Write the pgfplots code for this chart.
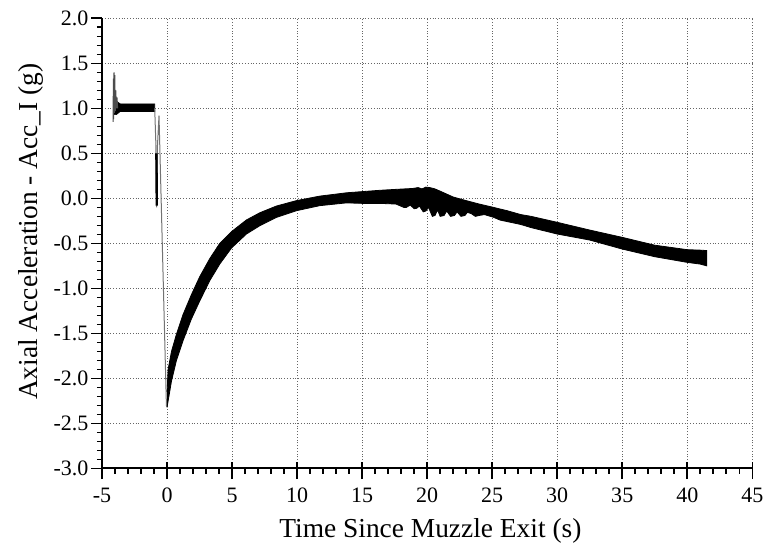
\documentclass[border=0pt]{standalone}
\usepackage{fontspec}
\setmainfont{Liberation Serif}
\usepackage{pgfplots}
\pgfplotsset{compat=1.18}
\begin{document}
\begin{tikzpicture}
\begin{axis}[
  scale only axis,
  width=325pt, height=225pt,
  xmin=-5, xmax=45, ymin=-3, ymax=2,
  axis lines=left,
  axis line style={-, line width=1pt},
  xtick={-5,0,5,10,15,20,25,30,35,40,45},
  ytick={-3,-2.5,-2,-1.5,-1,-0.5,0,0.5,1,1.5,2},
  minor x tick num=4,
  minor y tick num=4,
  tick align=outside,
  major tick length=5.3pt,
  minor tick length=2.6pt,
  every tick/.style={black, line width=0.8pt},
  grid=major,
  major grid style={densely dotted, black!60, line width=0.5pt},
  /pgf/number format/assume math mode=true,
  ticklabel style={font=\fontsize{11}{13}\selectfont},
  x tick label style={yshift=-1pt},
  y tick label style={inner sep=1.3pt, /pgf/number format/.cd, fixed, fixed zerofill, precision=1, /tikz/.cd},
  extra x ticks={-5,0,5,10,15,20,25,30,35,40,45},
  extra x tick labels={},
  extra x tick style={grid=none, tick align=inside, major tick length=3pt},
  xlabel={Time Since Muzzle Exit (s)},
  ylabel={Axial Acceleration - Acc\_I (g)},
  every axis x label/.style={at={(axis description cs:0.505,-0.1533)}, anchor=base, font=\fontsize{13.7}{16}\selectfont},
  every axis y label/.style={at={(axis description cs:-0.0985,0.526)}, rotate=90, anchor=base, font=\fontsize{13.7}{16}\selectfont},
]
% pre-launch plateau band
\addplot[fill=black, draw=black, line width=0.3pt] coordinates {
(-4.1,1.10) (-3.9,1.08) (-3.6,1.05) (-0.95,1.05)
(-0.95,0.965) (-3.6,0.965) (-3.9,0.93) (-4.1,0.93)
};
% spike at start
\addplot[black!70, line width=0.5pt] coordinates {
(-4.15,0.85) (-4.13,1.33) (-4.11,0.88) (-4.08,1.40) (-4.05,0.95) (-4.02,1.37)
(-3.98,0.97) (-3.94,1.20) (-3.90,1.00) (-3.85,1.12) (-3.80,1.00)
};
% drop transient
\addplot[black!55, line width=0.5pt] coordinates {
(-0.95,1.00) (-0.86,0.60) (-0.80,-0.10) (-0.79,0.50) (-0.78,-0.05) (-0.77,0.45)
(-0.76,0.00) (-0.75,0.55) (-0.62,0.92) (-0.05,-2.30) (0.0,-2.32)
};
\addplot[black, line width=1.2pt] coordinates {
(-0.82,0.50) (-0.79,-0.08)
};
% post-exit noisy band
\addplot[fill=black, draw=black, line width=0.4pt] coordinates {
(0.0,-2.15) (0.08,-1.90) (0.34,-1.70) (0.72,-1.51) (1.23,-1.29) (1.87,-1.07)
(2.51,-0.87) (3.28,-0.67) (4.05,-0.50) (4.95,-0.37) (6.1,-0.24) (7.13,-0.16)
(8.41,-0.085) (9.95,-0.025) (11.74,0.025) (13.8,0.062) (15.1,0.076) (16.4,0.09)
(17.6,0.10) (18.9,0.11) (19.3,0.12) (19.6,0.105) (19.9,0.125) (20.2,0.12) (20.6,0.105) (21.0,0.08)
(22.0,0.015) (23.0,-0.025) (24.0,-0.063) (25.1,-0.10) (25.6,-0.118) (26.1,-0.135)
(27.2,-0.18) (28.0,-0.20) (30,-0.266) (32.5,-0.352) (35,-0.433) (37.5,-0.52)
(40,-0.57) (41.0,-0.575) (41.5,-0.58)
(41.5,-0.75) (41.0,-0.73) (40,-0.711) (37.5,-0.648) (35,-0.563) (32.5,-0.463)
(30,-0.396) (28,-0.325) (27.2,-0.29) (25.6,-0.241) (25.1,-0.21) (24.4,-0.18)
(24.0,-0.19) (23.7,-0.20) (23.4,-0.17) (23.1,-0.155) (22.9,-0.19) (22.6,-0.20) (22.3,-0.15)
(22.1,-0.19) (21.8,-0.20) (21.5,-0.14) (21.3,-0.19) (21.0,-0.20) (20.8,-0.13)
(20.6,-0.19) (20.4,-0.20) (20.1,-0.10) (19.9,-0.14) (19.7,-0.15) (19.4,-0.085)
(19.2,-0.11) (19.0,-0.115) (18.7,-0.075) (18.4,-0.10) (18.2,-0.10) (17.6,-0.063) (16.4,-0.056) (15.1,-0.056)
(13.8,-0.05) (11.74,-0.081) (9.95,-0.137) (8.41,-0.211) (7.13,-0.304) (6.1,-0.396)
(4.95,-0.552) (4.05,-0.73) (3.28,-0.915) (2.51,-1.14) (1.87,-1.34) (1.23,-1.58)
(0.72,-1.80) (0.34,-2.03) (0.0,-2.32)
};
\end{axis}
\pgfresetboundingbox
\path ([shift={(-51pt,-37.5pt)}]current axis.south west) rectangle ([shift={(5.35pt,9.15pt)}]current axis.north east);
\end{tikzpicture}
\end{document}
